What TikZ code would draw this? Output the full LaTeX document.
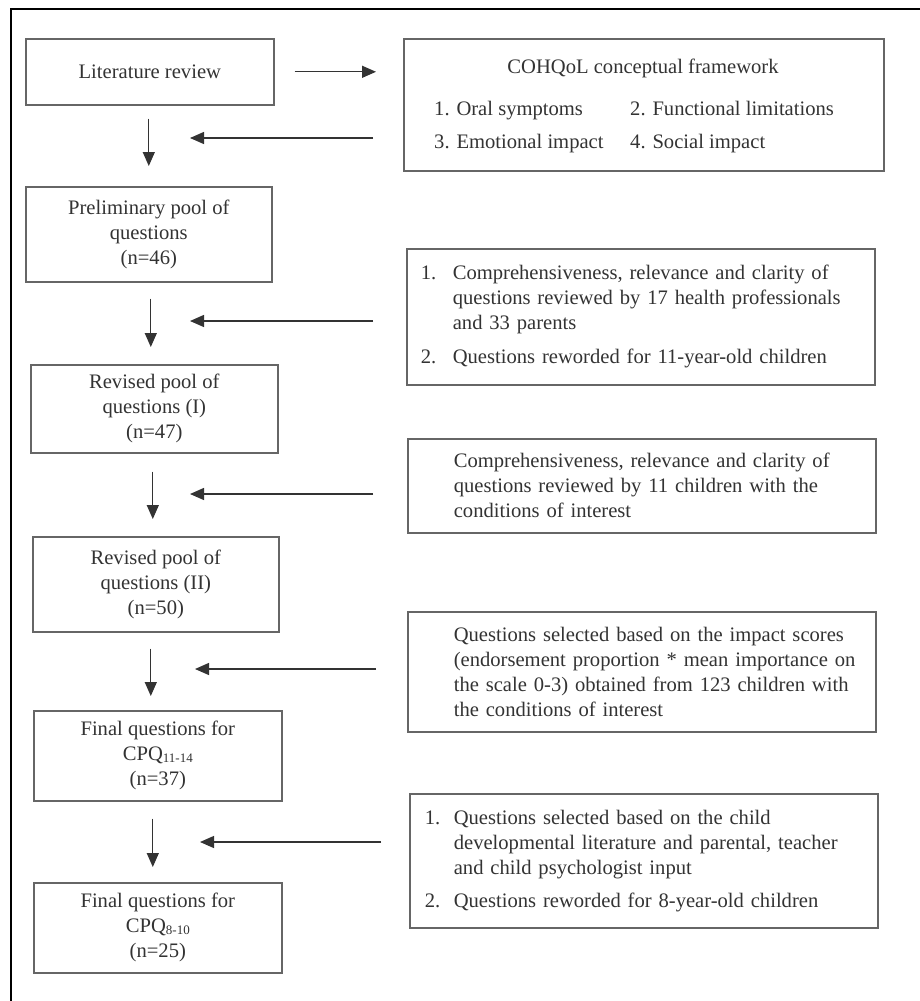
\documentclass[tikz,border=0pt]{standalone}
\usepackage{fontspec}
\setmainfont{Liberation Serif}
\usetikzlibrary{arrows.meta}
\newcommand{\itm}[2]{\makebox[#1][l]{#2}}
\begin{document}
\begin{tikzpicture}[x=1pt,y=-1pt,
  box/.style={draw=black!60, line width=1.6pt, rectangle, inner sep=0pt, align=center,
    text=black!80, font=\fontsize{20.6}{25}\selectfont, anchor=north west},
  rbox/.style={box, align=left, inner ysep=0pt, inner xsep=5pt, text width=458pt},
  txt/.style={text=black!80, font=\fontsize{20.6}{25}\selectfont, inner sep=0pt},
  arr/.style={draw=black!80, line width=1.3pt, -{Triangle[length=14pt,width=12pt]}},
  frameline/.style={draw=black, line width=1.3pt}]

\useasboundingbox (0,0) rectangle (920,1001);
\fill[white] (0,0) rectangle (920,1001);
\draw[frameline] (11,1001) -- (11,9) -- (920,9);

% left column
\node[box, minimum width=248pt, minimum height=66pt] (lit) at (25,38) {Literature review};
\node[box, minimum width=246pt, minimum height=95pt] (prelim) at (25,186) {Preliminary pool of\\questions\\(n=46)};
\node[box, minimum width=247pt, minimum height=88pt] (rev1) at (30,364) {Revised pool of\\questions (I)\\(n=47)};
\node[box, minimum width=246pt, minimum height=95pt] (rev2) at (32,536) {Revised pool of\\questions (II)\\(n=50)};
\node[box, minimum width=248pt, minimum height=90pt] (fin1) at (33,710) {Final questions for\\CPQ\raisebox{-2pt}{\fontsize{13}{13}\selectfont 11-14}\\(n=37)};
\node[box, minimum width=248pt, minimum height=90pt] (fin2) at (33,882) {Final questions for\\CPQ\raisebox{-2pt}{\fontsize{13}{13}\selectfont 8-10}\\(n=25)};

% COHQoL box
\node[box, minimum width=480pt, minimum height=132pt] (coh) at (403,38) {};
\node[txt, anchor=base] (cohT) at (643,73) {COHQoL conceptual framework};
\node[txt, anchor=base west] (c1) at (434,115) {1. Oral symptoms};
\node[txt, anchor=base west] (c2) at (630,115) {2. Functional limitations};
\node[txt, anchor=base west] (c3) at (434,148) {3. Emotional impact};
\node[txt, anchor=base west] (c4) at (630,148) {4. Social impact};

% right boxes
\node[rbox, minimum height=136pt] (r2) at (406,248)
 {\hspace*{9pt}\itm{32pt}{1.}Comprehensiveness, relevance and clarity of\\
  \hspace*{41pt}questions reviewed by 17 health professionals\\
  \hspace*{41pt}and 33 parents\\[9pt]
  \hspace*{9pt}\itm{32pt}{2.}Questions reworded for 11-year-old children};
\node[rbox, minimum height=94pt] (r3) at (407,438)
 {\hspace*{41pt}Comprehensiveness, relevance and clarity of\\
  \hspace*{41pt}questions reviewed by 11 children with the\\
  \hspace*{41pt}conditions of interest};
\node[rbox, minimum height=120pt] (r4) at (407,611)
 {\hspace*{41pt}Questions selected based on the impact scores\\
  \hspace*{41pt}(endorsement proportion * mean importance on\\
  \hspace*{41pt}the scale 0-3) obtained from 123 children with\\
  \hspace*{41pt}the conditions of interest};
\node[rbox, minimum height=134pt] (r5) at (409,793)
 {\hspace*{10pt}\itm{29pt}{1.}Questions selected based on the child\\
  \hspace*{39pt}developmental literature and parental, teacher\\
  \hspace*{39pt}and child psychologist input\\[8pt]
  \hspace*{10pt}\itm{29pt}{2.}Questions reworded for 8-year-old children};

% right arrow
\draw[arr] ([xshift=20pt]lit.east) -- ([xshift=-27pt]coh.west |- lit.east);

% down arrows
\draw[arr] ([shift={(-1,13)}]lit.south) -- ([shift={(0,-20)}]prelim.north);
\draw[arr] ([shift={(2,16)}]prelim.south) -- ([shift={(-3.5,-17)}]rev1.north);
\draw[arr] ([shift={(-1.5,18)}]rev1.south) -- ([shift={(-3,-17)}]rev2.north);
\draw[arr] ([shift={(-5,16)}]rev2.south) -- ([shift={(-7,-14)}]fin1.north);
\draw[arr] ([shift={(-5,17)}]fin1.south) -- ([shift={(-5,-15)}]fin2.north);

% left arrows
\coordinate (h1a) at (373,138); \coordinate (h1b) at (190,138);
\coordinate (h2a) at (373,321); \coordinate (h2b) at (190,321);
\coordinate (h3a) at (373,494); \coordinate (h3b) at (190,494);
\coordinate (h4a) at (376,669); \coordinate (h4b) at (195,669);
\coordinate (h5a) at (381,842); \coordinate (h5b) at (200,842);
\draw[arr] (h1a) -- (h1b);
\draw[arr] (h2a) -- (h2b);
\draw[arr] (h3a) -- (h3b);
\draw[arr] (h4a) -- (h4b);
\draw[arr] (h5a) -- (h5b);
\end{tikzpicture}
\end{document}
